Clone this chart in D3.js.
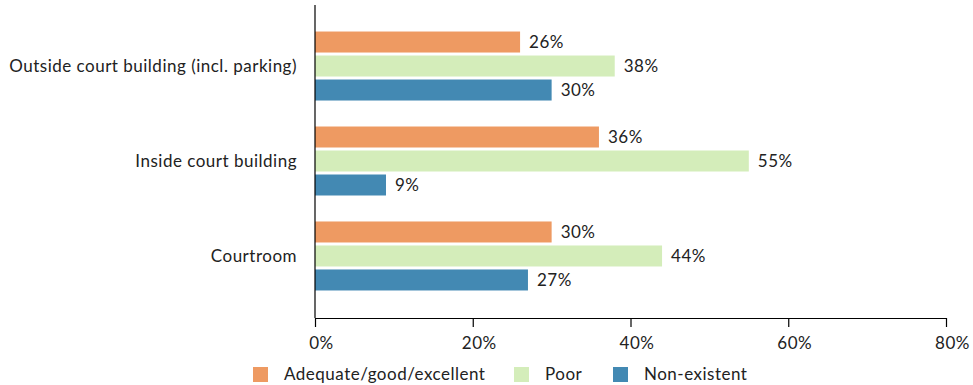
<!DOCTYPE html>
<html>
<head>
<meta charset="utf-8">
<script src="https://cdn.jsdelivr.net/npm/d3@7"></script>
<style>
  html, body { margin: 0; padding: 0; background: #fff; }
  svg text { font-family: "Lato", "Open Sans", sans-serif; fill: #222; letter-spacing: 0.5px; }
</style>
</head>
<body>
<svg id="chart" width="973" height="385"></svg>
<script>
// Locations in the court, top to bottom
const categories = ["Outside court building (incl. parking)", "Inside court building", "Courtroom"];
// Rating series
const seriesNames = ["Adequate/good/excellent", "Poor", "Non-existent"];
const seriesColors = ["#ee9a62", "#d4edba", "#4389b3"];
// Percentages for each series, one per location
const adequateValues = [26, 36, 30];
const poorValues = [38, 55, 44];
const nonExistentValues = [30, 9, 27];
const tickValues = [0, 20, 40, 60, 80];

const seriesValues = [adequateValues, poorValues, nonExistentValues];

const svg = d3.select("#chart");
const plotLeft = 315, plotRight = 946, plotTop = 4, plotBottom = 318;
const fontSize = 17;

const x = d3.scaleLinear().domain([0, 80]).range([plotLeft, plotRight]);

const y = d3.scaleBand()
  .domain(categories)
  .range([plotTop, plotBottom])
  .paddingInner(0.242)
  .paddingOuter(0.274);

const ySub = d3.scaleBand()
  .domain(seriesNames)
  .range([0, y.bandwidth()])
  .paddingInner(0.125)
  .paddingOuter(0.0625);

// Bars and value labels
const groups = svg.append("g").selectAll("g")
  .data(categories)
  .join("g")
  .attr("transform", d => `translate(0,${y(d)})`);

groups.each(function (cat, ci) {
  const g = d3.select(this);
  seriesNames.forEach((s, si) => {
    const v = seriesValues[si][ci];
    g.append("rect")
      .attr("x", x(0))
      .attr("y", ySub(s))
      .attr("width", x(v) - x(0))
      .attr("height", ySub.bandwidth())
      .attr("fill", seriesColors[si]);
    g.append("text")
      .attr("x", x(v) + 9)
      .attr("y", ySub(s) + ySub.bandwidth() / 2)
      .attr("dy", "0.35em")
      .attr("font-size", fontSize)
      .text(v + "%");
  });
});

// Category labels
svg.append("g").selectAll("text")
  .data(categories)
  .join("text")
  .attr("x", 297)
  .attr("y", d => y(d) + y.bandwidth() / 2)
  .attr("dy", "0.35em")
  .attr("text-anchor", "end")
  .attr("font-size", fontSize)
  .text(d => d);

// Vertical axis line
svg.append("line")
  .attr("x1", plotLeft).attr("x2", plotLeft)
  .attr("y1", 5).attr("y2", plotBottom)
  .attr("stroke", "#000").attr("stroke-width", 1.2);

// Horizontal axis
const xAxis = d3.axisBottom(x)
  .tickValues(tickValues)
  .tickFormat(d => d + "%")
  .tickSize(9)
  .tickSizeOuter(0)
  .tickPadding(10);

const ax = svg.append("g")
  .attr("transform", `translate(0,${plotBottom})`)
  .call(xAxis);
ax.select(".domain").attr("stroke", "#000").attr("stroke-width", 1.2);
ax.selectAll(".tick line").attr("stroke", "#000").attr("stroke-width", 1.2);
ax.selectAll(".tick text")
  .attr("font-size", fontSize)
  .attr("font-family", "Lato, 'Open Sans', sans-serif")
  .attr("fill", "#222")
  .attr("dx", 6);

// Legend
const legendX = [253, 514, 613];
const legend = svg.append("g").selectAll("g")
  .data(seriesNames)
  .join("g")
  .attr("transform", (d, i) => `translate(${legendX[i]},367)`);
legend.append("rect")
  .attr("width", 15).attr("height", 15)
  .attr("fill", (d, i) => seriesColors[i]);
legend.append("text")
  .attr("x", 31)
  .attr("y", 7.5)
  .attr("dy", "0.35em")
  .attr("font-size", fontSize)
  .text(d => d);
</script>
</body>
</html>
